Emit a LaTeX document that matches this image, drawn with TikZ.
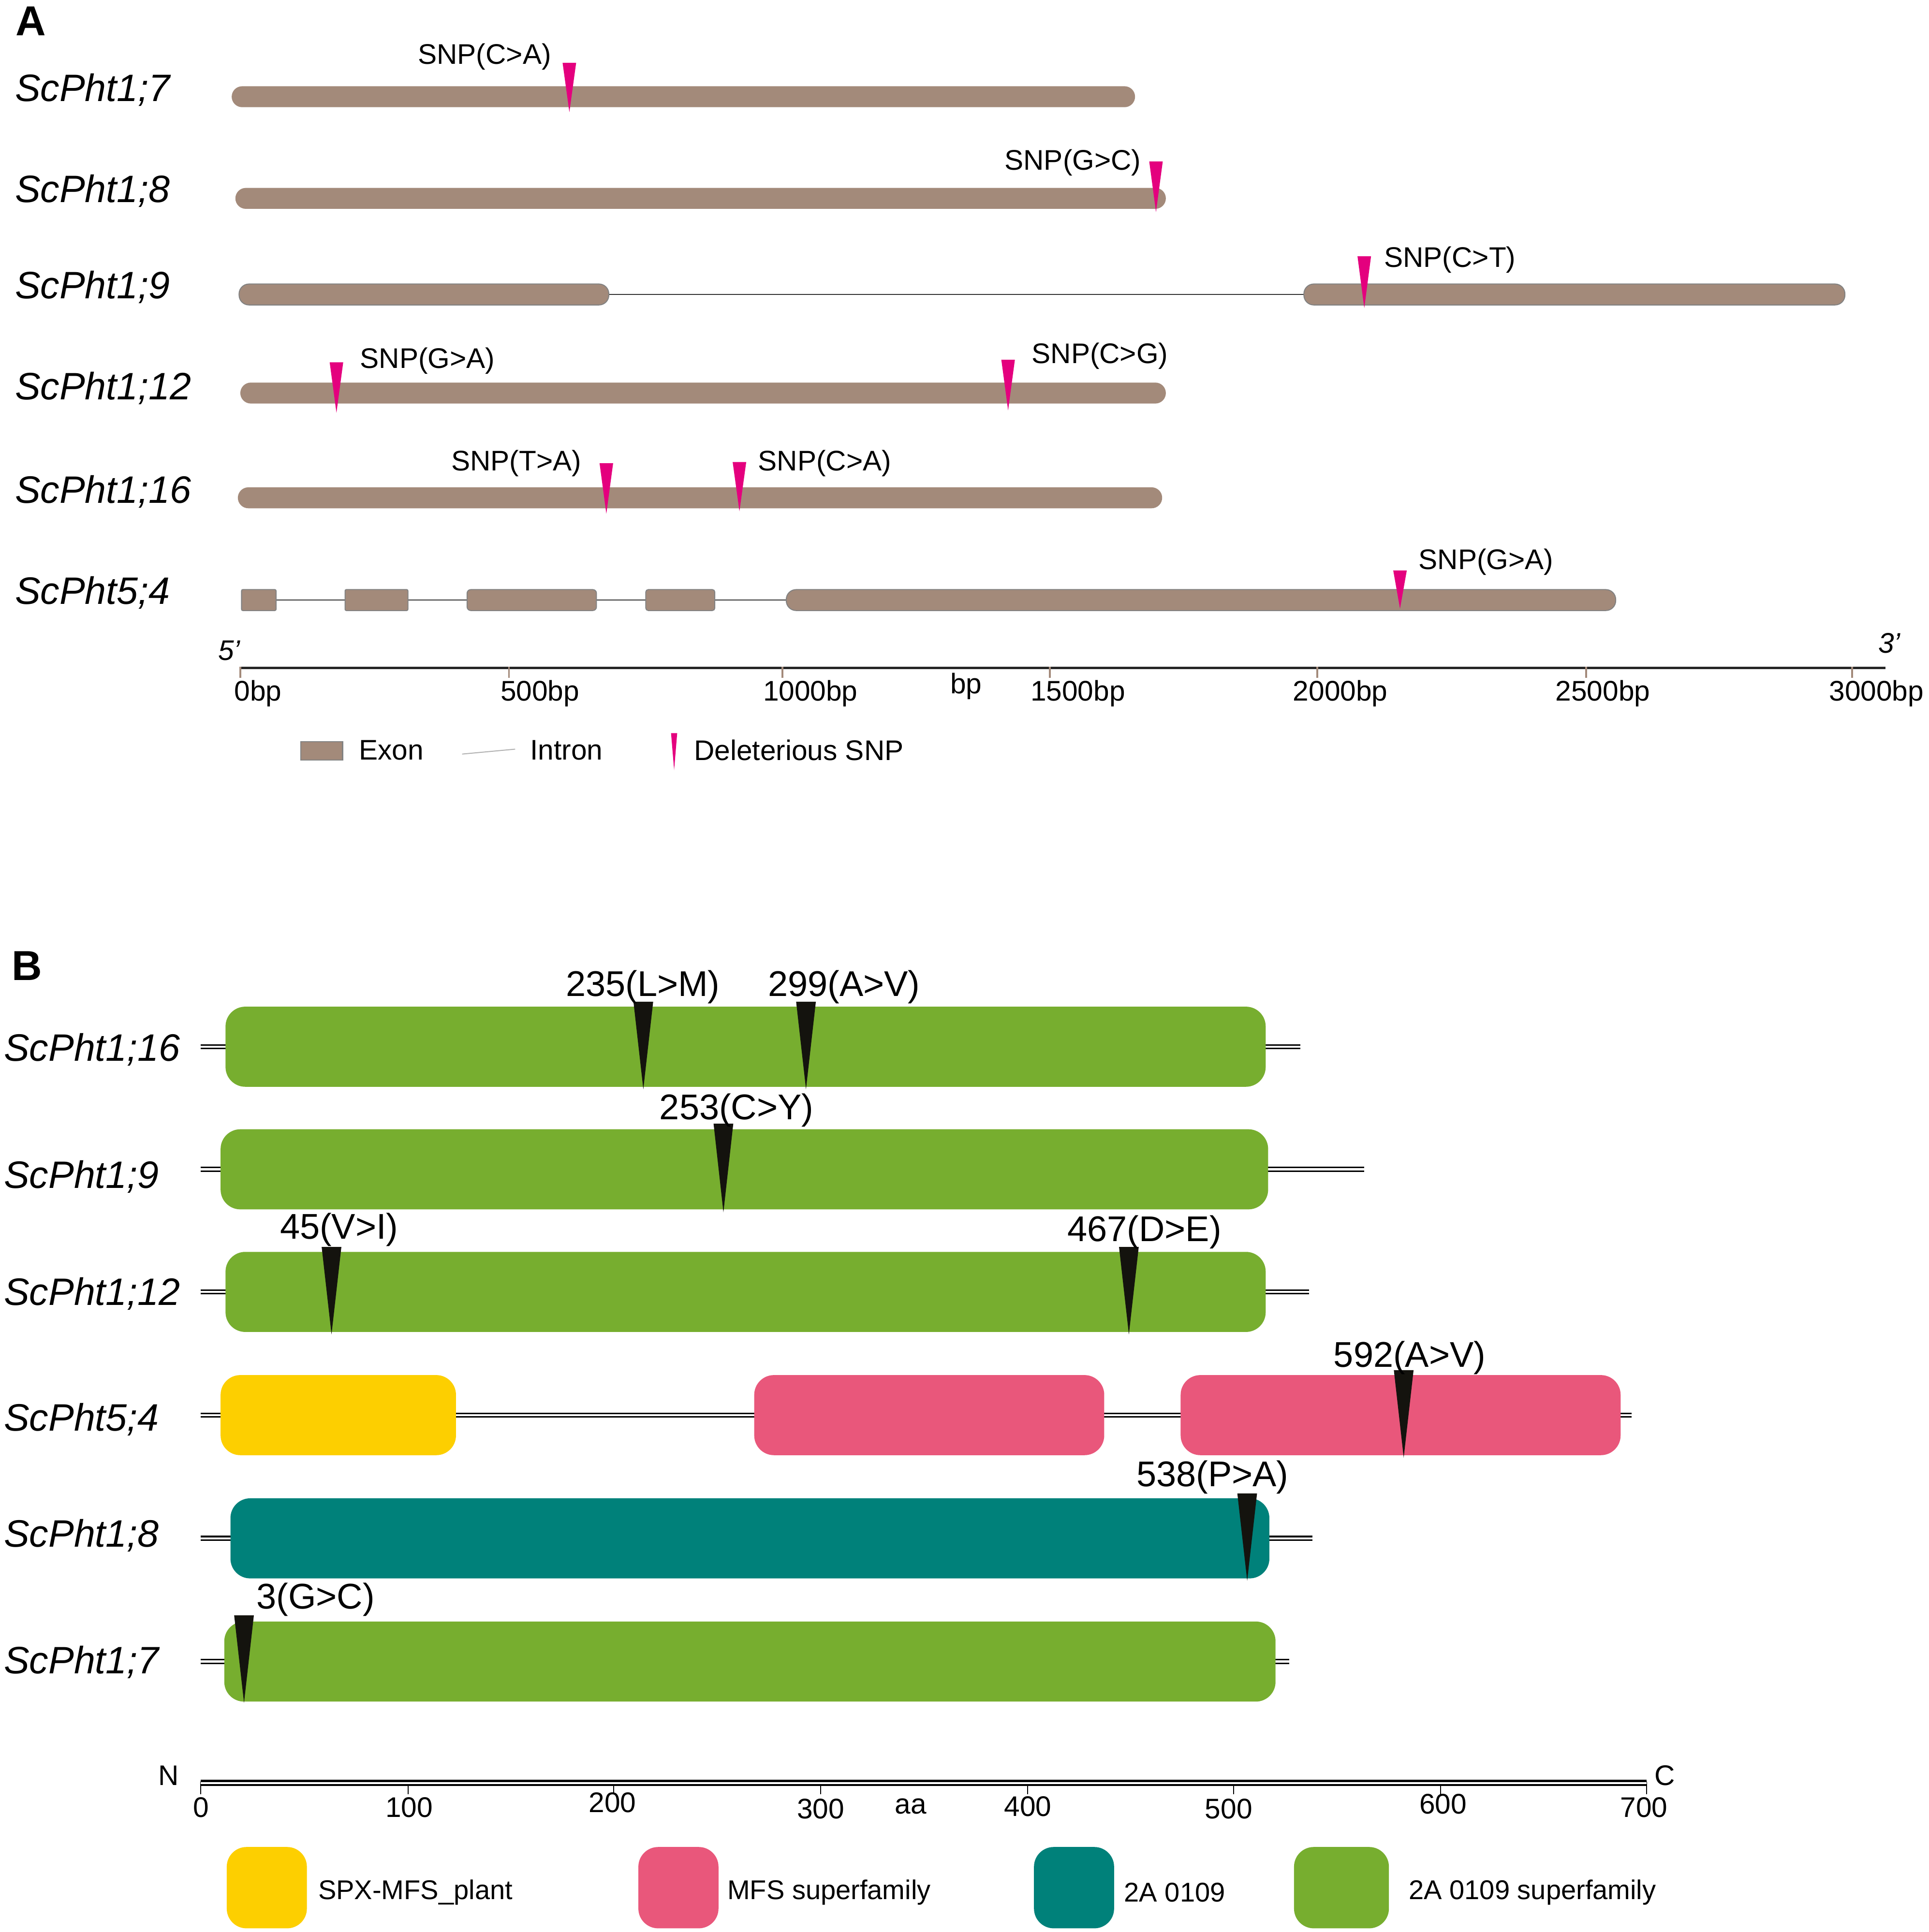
\documentclass[tikz,border=0pt]{standalone}
\usepackage{fontspec}
\setmainfont{Liberation Sans}
\definecolor{exonc}{RGB}{163,138,122}
\definecolor{exonedge}{RGB}{130,130,130}
\definecolor{snpc}{RGB}{228,0,126}
\definecolor{mutc}{RGB}{20,19,14}
\definecolor{grn}{RGB}{119,174,47}
\definecolor{ylw}{RGB}{253,207,0}
\definecolor{pnk}{RGB}{233,87,123}
\definecolor{teal2}{RGB}{0,129,122}
\newcommand\exonA[4]{\fill[exonc,rounded corners=#4] (#1,{#3-8.5}) rectangle (#2,{#3+8.5});}
\newcommand\exonE[4]{\filldraw[fill=exonc,draw=exonedge,line width=0.8pt,rounded corners=#4] (#1,{#3-8.5}) rectangle (#2,{#3+8.5});}
\newcommand\snpA[3]{\fill[snpc] ({#1-5.5},#2) -- ({#1+5.5},#2) -- (#1,#3) -- cycle;}
\newcommand\mutB[3]{\fill[mutc] ({#1-8},#2) -- ({#1+8},#2) -- (#1,#3) -- cycle;}
\newcommand\domB[4]{\fill[#4,rounded corners=16pt] (#1,{#3-32.5}) rectangle (#2,{#3+32.5});}
\tikzset{
  lab/.style={font=\fontsize{23}{27}\selectfont, inner sep=0pt},
  labB/.style={font=\fontsize{29}{33}\selectfont, inner sep=0pt},
  legB/.style={font=\fontsize{22}{26}\selectfont, inner sep=0pt, anchor=west},
  gene/.style={font=\fontsize{31}{36}\selectfont\itshape, inner sep=0pt, anchor=west},
  panel/.style={font=\fontsize{34}{38}\selectfont\bfseries, inner sep=0pt},
  stub/.style={draw=black, line width=1.2pt, double=white, double distance=1.8pt},
  intron/.style={draw=black!80, line width=0.7pt},
  tickA/.style={draw=exonc, line width=1.5pt},
}
\begin{document}
\begin{tikzpicture}[x=1pt,y=-1pt]
\useasboundingbox (0,0) rectangle (1565,1568);
\fill[white] (0,0) rectangle (1565,1568);

% ---------------- Panel A ----------------
\node[panel] (pA) at (25,17) {A};

\node[gene] (gA7)  at (12,73)  {ScPht1;7};
\node[gene] (gA8)  at (12,155) {ScPht1;8};
\node[gene] (gA9)  at (12,233) {ScPht1;9};
\node[gene] (gA12) at (12,315) {ScPht1;12};
\node[gene] (gA16) at (12,399) {ScPht1;16};
\node[gene] (gA54) at (12,481) {ScPht5;4};

% ScPht1;7
\exonA{188}{921}{78.5}{8.5pt}
\snpA{462}{51}{91}
\node[lab,anchor=west] (sA7) at (339,46) {SNP(C>A)};
% ScPht1;8
\exonA{191}{946}{161}{8.5pt}
\snpA{938}{131}{172}
\node[lab,anchor=west] (sA8) at (815,132) {SNP(G>C)};
% ScPht1;9
\draw[intron] (494,239) -- (1058,239);
\exonE{194}{494}{239}{8pt}
\exonE{1058}{1497}{239}{8pt}
\snpA{1107}{208}{250}
\node[lab,anchor=west] (sA9) at (1123,211) {SNP(C>T)};
% ScPht1;12
\exonA{195}{946}{319}{8.5pt}
\snpA{273}{294}{335}
\snpA{818}{292}{333}
\node[lab,anchor=west] (sA12a) at (292,293) {SNP(G>A)};
\node[lab,anchor=west] (sA12b) at (837,289) {SNP(C>G)};
% ScPht1;16
\exonA{193}{943}{404}{8.5pt}
\snpA{492}{376}{417}
\snpA{600}{375}{415}
\node[lab,anchor=west] (sA16a) at (366,376) {SNP(T>A)};
\node[lab,anchor=west] (sA16b) at (615,376) {SNP(C>A)};
% ScPht5;4
\draw[intron] (224,487) -- (280,487);
\draw[intron] (331,487) -- (379,487);
\draw[intron] (484,487) -- (524,487);
\draw[intron] (580,487) -- (638,487);
\exonE{196}{224}{487}{1pt}
\exonE{280}{331}{487}{1pt}
\exonE{379}{484}{487}{3pt}
\exonE{524}{580}{487}{2pt}
\exonE{638}{1311}{487}{8pt}
\snpA{1136}{463}{494}
\node[lab,anchor=west] (sA54) at (1151,456) {SNP(G>A)};

% axis A
\draw[line width=2pt,black!85] (195,542) -- (1530,542);
\foreach \xx in {195,413,635,852,1069,1287,1503} {\draw[tickA] (\xx,541) -- (\xx,550);}
\node[lab,font=\fontsize{23}{27}\selectfont\itshape] (p5) at (186,528) {5’};
\node[lab,font=\fontsize{23}{27}\selectfont\itshape] (p3) at (1533,522) {3’};
\node[lab,anchor=west] (t0)  at (190,563)  {0bp};
\node[lab,anchor=west] (t1)  at (406,563)  {500bp};
\node[lab,anchor=west] (t2)  at (619,563)  {1000bp};
\node[lab,anchor=west] (tbp) at (771,557)  {bp};
\node[lab,anchor=west] (t3)  at (836,563)  {1500bp};
\node[lab,anchor=west] (t4)  at (1049,563) {2000bp};
\node[lab,anchor=west] (t5)  at (1262,563) {2500bp};
\node[lab,anchor=west] (t6)  at (1484,563) {3000bp};

% legend A
\filldraw[fill=exonc,draw=exonedge,line width=0.8pt] (244,602) rectangle (278,617);
\node[lab,anchor=west] (lExon) at (291,609) {Exon};
\draw[black!30,line width=0.8pt] (375,612) -- (418,608);
\node[lab,anchor=west] (lIntron) at (430,609) {Intron};
\fill[snpc] (544.5,595) -- (549.5,595) -- (547,625) -- cycle;
\node[lab,anchor=west] (lSNP) at (563,609) {Deleterious SNP};

% ---------------- Panel B ----------------
\node[panel] (pB) at (22,784) {B};

\node[gene] (gB16) at (3,852)  {ScPht1;16};
\node[gene] (gB9)  at (3,955)  {ScPht1;9};
\node[gene] (gB12) at (3,1050) {ScPht1;12};
\node[gene] (gB54) at (3,1152) {ScPht5;4};
\node[gene] (gB8)  at (3,1246) {ScPht1;8};
\node[gene] (gB7)  at (3,1349) {ScPht1;7};

% ScPht1;16
\draw[stub] (163,849.5) -- (185,849.5);
\draw[stub] (1025,849.5) -- (1055,849.5);
\domB{183}{1027}{849.5}{grn}
\mutB{522}{813}{884}
\mutB{654}{813}{884}
\node[labB,anchor=west] (m235) at (459,801) {235(L>M)};
\node[labB,anchor=west] (m299) at (623,801) {299(A>V)};
% ScPht1;9
\draw[stub] (163,949) -- (181,949);
\draw[stub] (1027,949) -- (1107,949);
\domB{179}{1029}{949}{grn}
\mutB{587}{912}{984}
\node[labB,anchor=west] (m253) at (535,901) {253(C>Y)};
% ScPht1;12
\draw[stub] (163,1048.5) -- (185,1048.5);
\draw[stub] (1025,1048.5) -- (1062,1048.5);
\domB{183}{1027}{1048.5}{grn}
\mutB{269}{1012}{1083}
\mutB{916}{1012}{1083}
\node[labB,anchor=west] (m45) at (227,998) {45(V>I)};
\node[labB,anchor=west] (m467) at (866,1000) {467(D>E)};
% ScPht5;4
\draw[stub] (163,1148.5) -- (181,1148.5);
\draw[stub] (368,1148.5) -- (614,1148.5);
\draw[stub] (894,1148.5) -- (960,1148.5);
\draw[stub] (1313,1148.5) -- (1324,1148.5);
\domB{179}{370}{1148.5}{ylw}
\domB{612}{896}{1148.5}{pnk}
\domB{958}{1315}{1148.5}{pnk}
\mutB{1139}{1112}{1183}
\node[labB,anchor=west] (m592) at (1082,1102) {592(A>V)};
% ScPht1;8
\draw[stub] (163,1248.5) -- (189,1248.5);
\draw[stub] (1028,1248.5) -- (1065,1248.5);
\domB{187}{1030}{1248.5}{teal2}
\mutB{1012}{1212}{1283}
\node[labB,anchor=west] (m538) at (922,1199) {538(P>A)};
% ScPht1;7
\draw[stub] (163,1348.5) -- (184,1348.5);
\draw[stub] (1033,1348.5) -- (1046,1348.5);
\domB{182}{1035}{1348.5}{grn}
\mutB{198}{1311}{1382}
\node[labB,anchor=west] (m3) at (208,1298) {3(G>C)};

% axis B
\foreach \xx in {163,331,498,666,834,1001,1169,1336} {\draw[black,line width=0.8pt] (\xx,1446) -- (\xx,1456);}
\draw[draw=black,line width=1.7pt,double=white,double distance=1.6pt] (163,1447) -- (1336,1447);
\node[lab] (nN) at (137,1441) {N};
\node[lab] (nC) at (1351,1441) {C};
\node[lab] (b0)   at (163,1467)  {0};
\node[lab] (b100) at (332,1467)  {100};
\node[lab] (b200) at (497,1463)  {200};
\node[lab] (b300) at (666,1468)  {300};
\node[lab] (baa)  at (739,1466)  {aa};
\node[lab] (b400) at (834,1466)  {400};
\node[lab] (b500) at (997,1468)  {500};
\node[lab] (b600) at (1171,1464) {600};
\node[lab] (b700) at (1334,1467) {700};

% legend B
\fill[ylw,rounded corners=16pt] (184,1499) rectangle (249,1565);
\node[legB] (lg1) at (258,1536) {SPX-MFS\_plant};
\fill[pnk,rounded corners=16pt] (518,1499) rectangle (583,1565);
\node[legB] (lg2) at (590,1536) {MFS superfamily};
\fill[teal2,rounded corners=16pt] (839,1499) rectangle (904,1565);
\node[legB] (lg3) at (912,1536) {2A 0109};
\fill[grn,rounded corners=16pt] (1050,1499) rectangle (1127,1565);
\node[legB] (lg4) at (1143,1536) {2A 0109 superfamily};
\end{tikzpicture}
\end{document}
